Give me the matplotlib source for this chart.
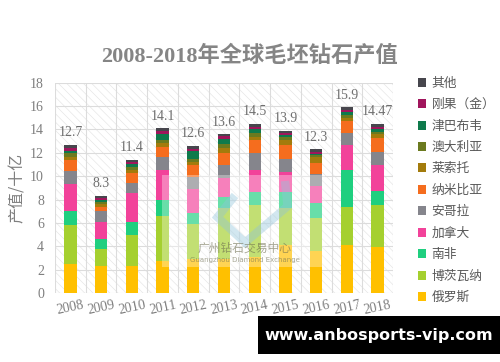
import numpy as np
import matplotlib
matplotlib.use('Agg')
import matplotlib.pyplot as plt
from matplotlib.patches import Rectangle, Patch, Polygon

plt.rcParams['font.family'] = ['Liberation Serif', 'Noto Sans CJK SC', 'DejaVu Sans']
plt.rcParams['hatch.linewidth'] = 0.4

# 2008-2018 rough diamond production value, billion USD
years = ['2008', '2009', '2010', '2011', '2012', '2013', '2014', '2015', '2016', '2017', '2018']
totals = ['12.7', '8.3', '11.4', '14.1', '12.6', '13.6', '14.5', '13.9', '12.3', '15.9', '14.47']

russia    = [2.50, 2.35, 2.35, 2.70, 2.90, 2.90, 3.10, 4.10, 3.60, 4.10, 3.94]
botswana  = [3.28, 1.40, 2.60, 3.90, 2.98, 4.40, 4.43, 3.15, 2.80, 3.29, 3.59]
s_africa  = [1.25, 0.90, 1.15, 1.35, 0.95, 0.90, 1.12, 1.42, 1.30, 3.14, 1.23]
canada    = [2.28, 1.40, 2.45, 2.55, 2.10, 1.67, 1.88, 1.66, 1.42, 2.14, 2.20]
angola    = [1.17, 0.95, 0.85, 1.15, 1.00, 1.10, 1.43, 1.14, 1.06, 1.00, 1.08]
namibia   = [0.92, 0.40, 0.85, 0.85, 1.00, 1.00, 1.14, 1.20, 0.94, 1.06, 1.20]
lesotho   = [0.28, 0.20, 0.30, 0.30, 0.30, 0.48, 0.28, 0.43, 0.50, 0.28, 0.35]
australia = [0.29, 0.20, 0.25, 0.30, 0.25, 0.30, 0.29, 0.23, 0.15, 0.23, 0.22]
zimbabwe  = [0.20, 0.15, 0.20, 0.50, 0.65, 0.43, 0.37, 0.20, 0.15, 0.23, 0.23]
drc       = [0.28, 0.15, 0.20, 0.25, 0.22, 0.22, 0.20, 0.20, 0.18, 0.20, 0.20]
other     = [0.25, 0.20, 0.20, 0.25, 0.25, 0.20, 0.23, 0.17, 0.20, 0.23, 0.23]

series = [
    ('俄罗斯', russia, '#ffc000'),
    ('博茨瓦纳', botswana, '#a5d02f'),
    ('南非', s_africa, '#1fcf7f'),
    ('加拿大', canada, '#f2429a'),
    ('安哥拉', angola, '#85858c'),
    ('纳米比亚', namibia, '#f56d1e'),
    ('莱索托', lesotho, '#a37b0c'),
    ('澳大利亚', australia, '#6b7a1f'),
    ('津巴布韦', zimbabwe, '#0e7a4c'),
    ('刚果（金）', drc, '#a0155c'),
    ('其他', other, '#47464d'),
]

grey = '#7f7f7f'
fig = plt.figure(figsize=(5, 3.62), dpi=100)
ax = fig.add_axes([0.11, 0.1906, 0.676, 0.581])

x = np.arange(len(years))
bottom = np.zeros(len(years))
handles = []
for name, vals, col in series:
    ax.bar(x, vals, 0.4, bottom=bottom, color=col, zorder=3)
    bottom += np.array(vals)
    handles.append(Patch(facecolor=col, label=name))

for i, t in enumerate(totals):
    ax.annotate(t, (x[i], bottom[i]), xytext=(0, 4), textcoords='offset points',
                ha='center', va='bottom', fontsize=10, color='#6f6f6f')

# hatched background + grid
ax.add_patch(Rectangle((0, 0), 1, 1, transform=ax.transAxes, fill=False,
                       hatch='\\\\\\\\', edgecolor='#e2e2e2', lw=0, zorder=0))
ax.set_xlim(-0.5, len(years) - 0.5)
ax.set_ylim(0, 18)
ax.set_yticks(range(0, 19, 2))
for yy in range(0, 19, 2):
    ax.axhline(yy, color='#dcdcdc', lw=0.8, zorder=1)
for xx in np.arange(-0.5, len(years), 1):
    ax.axvline(xx, color='#dcdcdc', lw=0.8, zorder=1)
for s in ax.spines.values():
    s.set_visible(False)
ax.tick_params(length=0, colors=grey, labelsize=10)
ax.tick_params(axis='y', pad=8)
ax.set_xticks(x)
ax.set_xticklabels(years, rotation=12)
ax.tick_params(axis='x', pad=4)
ax.set_ylabel('产值/十亿', family=['Noto Sans CJK SC'], fontsize=11.5, color=grey, labelpad=3)

fig.text(0.5, 0.845, '2008-2018年全球毛坯钻石产值', ha='center', va='center',
         fontsize=16, fontweight='bold', color='#858585')

leg = fig.legend(handles=handles[::-1], loc='upper left', bbox_to_anchor=(0.812, 0.82),
                 frameon=False, handlelength=0.7, handleheight=0.7, handletextpad=0.4,
                 labelspacing=0.66, prop={'family': ['Noto Sans CJK SC'], 'size': 9.2})
for t in leg.get_texts():
    t.set_color('#595959')

# watermark overlay
fig.add_artist(Rectangle((0.324, 0.262), 0.326, 0.255, transform=fig.transFigure,
                         facecolor='white', alpha=0.33, lw=0))
fig.add_artist(Polygon([(0.47, 0.46), (0.435, 0.40), (0.49, 0.33), (0.575, 0.43), (0.57, 0.50)],
                       closed=False, transform=fig.transFigure, fill=False,
                       edgecolor='#8fc3da', lw=6, alpha=0.4))
fig.text(0.49, 0.315, '广州钻石交易中心', ha='center', va='center', fontsize=8.5,
         family=['Noto Sans CJK SC'], color='#6e6e50', alpha=0.6)
fig.text(0.49, 0.282, 'Guangzhou Diamond Exchange', ha='center', va='center', fontsize=5,
         family=['DejaVu Sans'], color='#6e6e50', alpha=0.6)

# site banner at the bottom right
fig.add_artist(Rectangle((0.516, 0.022), 0.484, 0.105, transform=fig.transFigure,
                         facecolor='black', lw=0))
fig.text(0.758, 0.074, 'www.anbosports-vip.com', ha='center', va='center', fontsize=11.5,
         fontweight='bold', family=['DejaVu Sans'], color='white')

fig.savefig('out.png', dpi=100)
